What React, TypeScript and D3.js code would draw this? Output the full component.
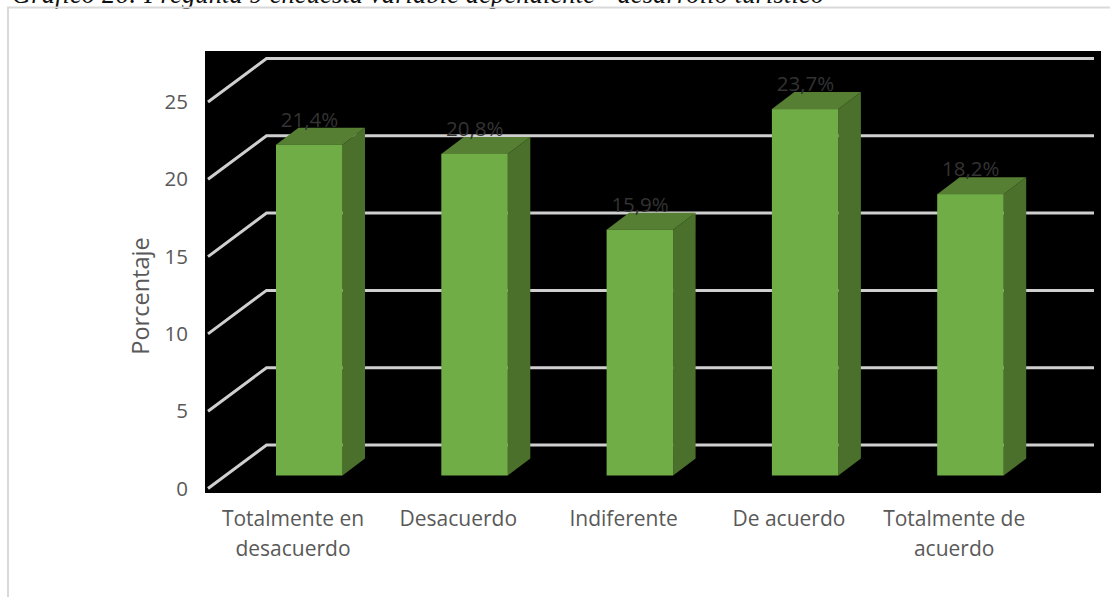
import React from "react";
import * as d3 from "d3";

const categories = [["Totalmente en", "desacuerdo"], ["Desacuerdo"], ["Indiferente"], ["De acuerdo"], ["Totalmente de", "acuerdo"]];
const values = [21.4, 20.8, 15.9, 23.7, 18.2];
const labels = ["21,4%", "20,8%", "15,9%", "23,7%", "18,2%"];
const ticks = [0, 5, 10, 15, 20, 25];

const font = "'Open Sans', 'Noto Sans', sans-serif";

export default function App() {
  const yFront = d3.scaleLinear().domain([0, 25]).range([488.5, 102]);
  const dx = 58.5, dy = -43.5;
  const xFrontL = 208;
  const barW = 66.5;
  const barDepthX = 22.5, barDepthY = -17;
  const barBase = 475.5;
  const barY = (v: number) => barBase - (yFront(0) - yFront(v));
  const barLeft = (i: number) => 276 + i * 165.3;
  return (
    <svg width={1110} height={597} style={{ position: "absolute", left: 0, top: 0 }}>
      <rect width={1110} height={597} fill="#fff" />
      <text x={12} y={3} fontFamily="'Liberation Serif', serif" fontStyle="italic" fontSize={26.5} fill="#111" textLength={812} lengthAdjust="spacing">
        Gráfico  26: Pregunta 9 encuesta variable dependiente - desarrollo turístico
      </text>
      <path d="M8,597V7.5H1110" fill="none" stroke="#d9d9d9" strokeWidth={2} />
      <rect x={205} y={51} width={896} height={442} fill="#000" />
      {ticks.map((t) => {
        const y = yFront(t);
        return (
          <g key={t}>
            <path d={`M${xFrontL},${y}L${xFrontL + dx},${y + dy}H1094`} fill="none" stroke="#cfcfcf" strokeWidth={3} />
            <text x={188} y={y + 7} textAnchor="end" fontFamily={font} fontSize={20.5} fill="#595959">{t}</text>
          </g>
        );
      })}
      {values.map((v, i) => {
        const x = barLeft(i), y = barY(v);
        return (
          <g key={i}>
            <polygon points={`${x + barW},${y} ${x + barW + barDepthX},${y + barDepthY} ${x + barW + barDepthX},${barBase + barDepthY} ${x + barW},${barBase}`} fill="#4b702c" />
            <polygon points={`${x},${y} ${x + barDepthX},${y + barDepthY} ${x + barW + barDepthX},${y + barDepthY} ${x + barW},${y}`} fill="#567f33" />
            <rect x={x} y={y} width={barW} height={barBase - y} fill="#70ad47" />
            <text x={x + 33.5} y={y - 18} textAnchor="middle" fontFamily={font} fontSize={20.5} fill="#333">{labels[i]}</text>
          </g>
        );
      })}
      {categories.map((c, i) => (
        <text key={i} textAnchor="middle" fontFamily={font} fontSize={21} fill="#595959">
          {c.map((l, j) => (
            <tspan key={j} x={293 + i * 165.3} y={525.5 + j * 30}>{l}</tspan>
          ))}
        </text>
      ))}
      <text transform="translate(149,296) rotate(-90)" textAnchor="middle" fontFamily={font} fontSize={23.5} fill="#595959">Porcentaje</text>
    </svg>
  );
}
